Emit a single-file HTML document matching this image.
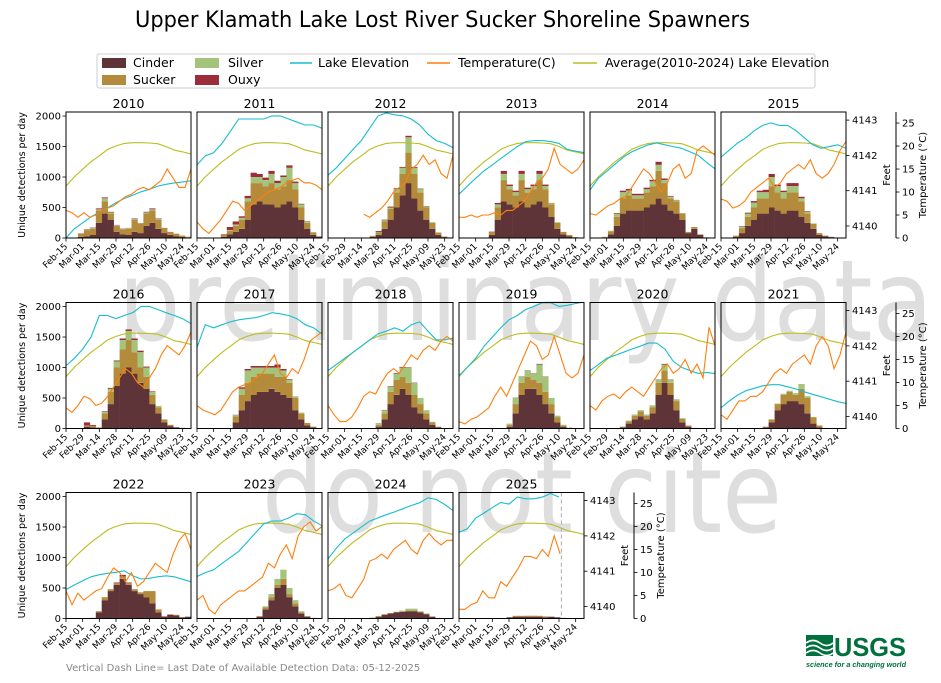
<!DOCTYPE html>
<html><head><meta charset="utf-8">
<style>
html,body{margin:0;padding:0;background:#fff;}
svg{display:block;font-family:"DejaVu Sans","Liberation Sans",sans-serif;}
</style></head>
<body>
<svg id="chart" width="941" height="683" viewBox="0 0 941 683" xmlns="http://www.w3.org/2000/svg">
<rect width="941" height="683" fill="#fff"/>
<g fill="#dedede" font-family="'DejaVu Sans','Liberation Sans',sans-serif">
<text x="118" y="340" font-size="112" textLength="815" lengthAdjust="spacingAndGlyphs">preliminary data</text>
<text x="262" y="532" font-size="112" textLength="520" lengthAdjust="spacingAndGlyphs">do not cite</text>
</g>
<text x="135" y="27" font-size="22" textLength="615" lengthAdjust="spacingAndGlyphs" fill="#000">Upper Klamath Lake Lost River Sucker Shoreline Spawners</text>
<g font-size="12.5" fill="#000">
<rect x="97" y="54" width="718" height="34" fill="#fff" stroke="#ccc" rx="2"/>
<rect x="102" y="58" width="24" height="10" fill="#5e3439"/>
<text x="133" y="67">Cinder</text>
<rect x="102" y="75" width="24" height="10" fill="#b38b3a"/>
<text x="133" y="84">Sucker</text>
<rect x="195" y="58" width="24" height="10" fill="#a3c47a"/>
<text x="228" y="67">Silver</text>
<rect x="195" y="75" width="24" height="10" fill="#9b2d3d"/>
<text x="228" y="84">Ouxy</text>
<line x1="290" y1="63" x2="312" y2="63" stroke="#17becf" stroke-width="1.5"/>
<text x="318" y="67">Lake Elevation</text>
<line x1="427" y1="63" x2="450" y2="63" stroke="#ff7f0e" stroke-width="1.5"/>
<text x="458" y="67">Temperature(C)</text>
<line x1="573" y1="63" x2="597" y2="63" stroke="#bcbd22" stroke-width="1.5"/>
<text x="605" y="67">Average(2010-2024) Lake Elevation</text>
</g>
<g id="panels"></g>
<text x="66" y="671" font-size="10" fill="#888">Vertical Dash Line= Last Date of Available Detection Data: 05-12-2025</text>
<g>
<rect x="806" y="635" width="27" height="21" fill="#00703c"/>
<path d="M806 643 q7 -5 14 0 t13 0 M806 648 q7 -5 14 0 t13 0 M806 653 q7 -5 14 0 t13 0" stroke="#fff" stroke-width="1.6" fill="none"/>
<text x="834" y="656" font-size="26" font-weight="bold" fill="#00703c" font-family="'Liberation Sans',sans-serif" textLength="72" lengthAdjust="spacingAndGlyphs">USGS</text>
<text x="806" y="667" font-size="7.5" font-style="italic" font-weight="bold" fill="#00703c" font-family="'Liberation Sans',sans-serif" textLength="100" lengthAdjust="spacingAndGlyphs">science for a changing world</text>
</g>
</svg>
<script>
const years=[2010,2011,2012,2013,2014,2015,2016,2017,2018,2019,2020,2021,2022,2023,2024,2025];
// 5-day bins from Feb-15 (21 bins)
const cinder={
2010:[0,0,20,30,50,250,400,300,100,60,50,100,80,200,250,150,80,50,30,20,10],
2011:[0,0,0,0,20,60,100,150,300,550,600,550,550,500,550,600,500,300,150,50,20],
2012:[0,0,0,0,0,0,0,20,50,150,300,500,700,900,650,450,300,150,50,15,5],
2013:[0,0,0,0,0,50,300,600,550,500,600,500,550,600,500,350,150,60,30,10,0],
2014:[0,0,10,60,200,400,450,450,450,500,550,650,550,450,400,300,80,150,50,10,0],
2015:[0,0,20,80,200,300,400,400,500,450,400,450,450,350,250,150,50,30,15,5,0],
2016:[0,0,0,30,20,10,150,400,700,900,1000,900,750,650,400,250,100,40,20,10,5],
2017:[0,0,0,0,0,0,100,300,450,550,600,600,650,600,550,500,300,150,50,20,0],
2018:[0,0,0,0,0,0,0,0,30,150,400,550,650,550,350,250,150,60,20,5,0],
2019:[0,0,0,0,0,0,0,0,30,250,550,650,650,550,400,250,100,30,10,0,0],
2020:[0,0,0,0,0,20,80,150,200,150,250,550,750,550,300,100,30,10,0,0,0],
2021:[0,0,0,0,0,0,0,20,100,300,400,450,450,400,250,80,20,5,0,0,0],
2022:[0,0,0,0,10,100,300,450,550,650,550,450,400,350,250,100,30,60,50,20,30],
2023:[0,0,0,0,0,0,0,0,0,0,30,150,300,500,550,350,200,80,30,10,0],
2024:[0,0,0,0,0,0,0,10,30,60,80,100,110,120,120,100,70,30,5,0,0],
2025:[0,0,0,0,0,0,0,0,20,30,30,30,30,30,20,30,20,10,0,0,0]};
const sucker={
2010:[0,0,50,100,100,200,200,100,100,80,100,200,150,200,200,150,80,50,40,20,10],
2011:[0,0,0,0,30,60,100,150,300,350,300,300,350,300,300,350,300,200,100,40,10],
2012:[0,0,0,0,0,0,0,10,40,120,180,250,350,500,400,300,200,100,40,10,5],
2013:[0,0,0,0,0,50,200,350,250,200,350,250,250,350,300,200,100,40,20,5,0],
2014:[0,0,10,50,150,250,250,200,200,250,300,450,350,200,200,100,20,30,10,0,0],
2015:[0,0,20,80,150,200,250,250,350,300,250,300,300,250,150,80,30,10,5,0,0],
2016:[0,0,0,20,20,10,100,200,300,400,450,350,250,200,150,100,50,20,0,0,0],
2017:[0,0,0,0,0,0,100,250,300,300,300,300,250,250,300,250,200,100,40,10,0],
2018:[0,0,0,0,0,0,0,0,30,100,200,250,200,200,200,150,100,40,10,0,0],
2019:[0,0,0,0,0,0,0,0,30,150,200,200,150,200,200,150,80,20,5,0,0],
2020:[0,0,0,0,0,10,40,60,80,60,100,200,200,200,150,60,20,0,0,0,0],
2021:[0,0,0,0,0,0,0,10,50,100,150,150,100,250,250,100,30,5,0,0,0],
2022:[0,0,0,0,0,20,50,30,30,40,30,30,30,100,200,50,10,10,10,0,0],
2023:[0,0,0,0,0,0,0,0,0,0,10,30,50,50,100,50,50,20,10,0,0],
2024:[0,0,0,0,0,0,0,5,10,10,10,10,10,10,10,10,10,5,0,0,0],
2025:[0,0,0,0,0,0,0,0,0,15,15,15,15,15,15,0,0,0,0,0,0]};
const silver={
2010:[0,0,0,10,10,20,50,20,10,10,10,10,10,20,20,10,0,0,0,0,0],
2011:[0,0,0,0,0,10,20,30,50,100,100,100,150,100,150,200,100,50,20,5,0],
2012:[0,0,0,0,0,0,0,0,10,20,20,50,100,250,100,50,20,10,0,0,0],
2013:[0,0,0,0,0,0,50,100,50,50,100,50,50,100,50,20,10,0,0,0,0],
2014:[0,0,0,10,50,100,80,50,50,50,80,100,50,30,20,10,0,0,0,0,0],
2015:[0,0,0,20,50,80,100,100,150,100,100,100,100,50,30,10,0,0,0,0,0],
2016:[0,0,0,0,0,0,20,50,100,150,150,200,250,150,50,20,0,0,0,0,0],
2017:[0,0,0,0,0,0,20,100,200,150,100,100,100,150,100,50,20,10,0,0,0],
2018:[0,0,0,0,0,0,0,0,30,50,80,100,150,250,200,100,50,10,0,0,0],
2019:[0,0,0,0,0,0,0,0,20,100,100,100,100,300,250,100,30,10,0,0,0],
2020:[0,0,0,0,0,0,10,20,20,20,30,50,100,50,30,10,0,0,0,0,0],
2021:[0,0,0,0,0,0,0,0,0,10,20,20,30,80,30,10,0,0,0,0,0],
2022:[0,0,0,0,0,0,0,0,0,0,0,0,0,0,0,0,0,0,0,0,0],
2023:[0,0,0,0,0,0,0,0,0,0,0,20,50,100,150,100,50,20,0,0,0],
2024:[0,0,0,0,0,0,0,0,0,0,0,0,10,30,30,10,0,0,0,0,0],
2025:[0,0,0,0,0,0,0,0,0,0,0,5,5,0,0,0,0,0,0,0,0]};
const ouxy={
2010:[0,0,5,5,10,15,15,10,5,5,5,10,5,10,15,10,5,0,0,0,0],
2011:[0,0,0,0,10,50,50,25,40,70,50,40,50,40,25,40,25,10,5,0,0],
2012:[0,0,0,0,0,0,0,5,15,10,15,15,15,25,15,10,5,0,0,0,0],
2013:[0,0,0,0,0,5,25,50,25,25,50,25,25,50,25,5,0,0,0,0,0],
2014:[0,0,0,0,10,25,25,25,25,25,25,50,25,10,5,0,0,0,0,0,0],
2015:[0,0,0,10,15,25,25,40,50,25,25,50,50,25,10,0,0,0,0,0,0],
2016:[0,0,0,50,15,0,10,15,15,25,25,25,25,15,10,0,0,0,0,0,0],
2017:[0,0,0,0,0,0,5,25,25,25,25,25,25,50,25,10,5,0,0,0,0],
2018:[0,0,0,0,0,0,0,0,0,5,10,10,10,5,5,0,0,0,0,0,0],
2019:[0,0,0,0,0,0,0,0,0,5,5,5,5,10,5,0,0,0,0,0,0],
2020:[0,0,0,0,0,0,0,0,0,0,0,5,10,5,0,0,0,0,0,0,0],
2021:[0,0,0,0,0,0,0,0,0,0,0,0,0,0,0,0,0,0,0,0,0],
2022:[0,0,0,0,0,0,0,0,10,25,10,0,0,0,0,0,0,0,0,0,0],
2023:[0,0,0,0,0,0,0,0,0,0,0,0,0,0,0,0,0,0,0,0,0],
2024:[0,0,0,0,0,0,0,0,0,0,0,0,0,0,0,0,0,0,0,0,0],
2025:[0,0,0,0,0,0,0,0,0,0,0,0,0,0,0,0,0,0,0,0,0]};
// weekly lake elevation (feet), days 0,7,...,105
const elevation={
2010:[4139.66,4139.92,4140.09,4140.26,4140.39,4140.52,4140.66,4140.78,4140.87,4140.97,4141.04,4141.13,4141.18,4141.22,4141.25,4141.28],
2011:[4141.73,4141.99,4142.08,4142.34,4142.68,4143.03,4143.03,4143.03,4143.03,4143.12,4143.12,4143.03,4142.94,4142.86,4142.86,4142.77],
2012:[4141.44,4141.65,4141.91,4142.17,4142.42,4142.77,4143.12,4143.20,4143.15,4143.12,4143.03,4142.86,4142.60,4142.42,4142.34,4142.22],
2013:[4140.90,4141.13,4141.35,4141.56,4141.73,4141.91,4142.08,4142.25,4142.39,4142.42,4142.42,4142.39,4142.34,4142.17,4142.12,4142.08],
2014:[4141.02,4141.35,4141.55,4141.75,4141.95,4142.10,4142.20,4142.30,4142.35,4142.30,4142.25,4142.20,4142.10,4142.00,4141.80,4141.62],
2015:[4141.95,4142.15,4142.35,4142.50,4142.70,4142.85,4142.92,4142.85,4142.85,4142.70,4142.50,4142.30,4142.20,4142.25,4142.30,4142.20],
2016:[4141.44,4141.65,4141.91,4142.25,4142.86,4142.86,4142.77,4142.86,4142.94,4143.12,4143.12,4143.03,4142.94,4142.86,4142.77,4142.63],
2017:[4141.96,4142.60,4142.51,4142.60,4142.68,4142.74,4142.77,4142.80,4142.86,4142.94,4142.91,4142.86,4142.77,4142.60,4142.51,4142.34],
2018:[4141.30,4141.47,4141.65,4141.82,4141.99,4142.17,4142.34,4142.42,4142.51,4142.42,4142.60,4142.68,4142.42,4142.17,4142.17,4142.22],
2019:[4141.16,4141.39,4141.65,4141.99,4142.25,4142.51,4142.74,4142.86,4143.03,4143.12,4143.22,4143.22,4143.12,4143.15,4143.20,4143.24],
2020:[4141.30,4141.47,4141.65,4141.73,4141.82,4141.91,4141.99,4142.08,4142.08,4141.91,4141.56,4141.39,4141.30,4141.22,4141.25,4141.22],
2021:[4140.25,4140.44,4140.61,4140.73,4140.80,4140.87,4140.90,4140.90,4140.84,4140.78,4140.70,4140.63,4140.56,4140.49,4140.42,4140.37],
2022:[4140.48,4140.61,4140.73,4140.84,4140.90,4140.94,4140.97,4141.01,4140.87,4140.78,4140.80,4140.84,4140.87,4140.84,4140.77,4140.70],
2023:[4140.85,4140.96,4141.04,4141.22,4141.39,4141.56,4141.82,4142.08,4142.34,4142.42,4142.42,4142.51,4142.63,4142.60,4142.42,4142.29],
2024:[4141.35,4141.65,4141.91,4142.08,4142.25,4142.42,4142.51,4142.60,4142.68,4142.77,4142.86,4142.94,4143.08,4143.03,4142.89,4142.72],
2025:[4142.10,4142.20,4142.50,4142.65,4142.80,4142.95,4142.90,4143.10,4143.05,4143.05,4143.10,4143.20,4143.10,null,null,null]};
const averageElevation=[4141.13,4141.39,4141.61,4141.82,4141.99,4142.17,4142.27,4142.34,4142.36,4142.36,4142.35,4142.33,4142.25,4142.15,4142.10,4142.04];
// temperature (C) every 5 days, days 0..105
const temperature={
2010:[6,5.5,4.5,5.5,4.5,5,6,6.5,7,8,9,9.5,10.5,11,10.5,11.5,12.5,15,13,11,11,15],
2011:[3.5,2,1,2.5,4,6,8,7.5,6,7,8,9,10,10.5,11,12,12.5,13,12,12,11.5,10.5],
2012:[null,null,null,null,null,null,5.2,4.5,5.5,6.5,8,10,11,12,15,16,18,16,17,14,13,18],
2013:[4.5,4.5,5,4.5,5,5,5.5,5,6,6,7,8,10,12,13,15,19.5,16,15,14,15,17],
2014:[5.3,5,6,7,7.5,8.5,9,11,13,15,14,12,10,12,15,16,13,14,19,20,19,18],
2015:[8.5,8,6.5,7,8,10,11,12,13,11,12,14,15,16,15,17,14,13,14,16,19,21],
2016:[4.5,3.5,5,7,6.5,5,5.5,7,9,11,13,12,10,9,11,13,16,18,17,16,18,21],
2017:[5,4,3.5,3,4,6,8,9,9.5,10,11,12,14,16,12,11,13,12,15,19,20,21],
2018:[5,3,1.5,1.5,2.5,4.5,7,8,7.5,10,12,13,12,14,16,15,17,18,17,19,20,19],
2019:[1.5,1,2,2.5,3.5,4.5,7,9,7,10,13,16,19,18,15,16,20,16,12,11,12,16],
2020:[5,4,6,7,7.5,6.5,8,9,8,7,9,11,13,14,12,13,15,12,14,11,22,18],
2021:[3,2,4,6,6,7,7,8,10,12,13,12,14,15,16,14,18,20,18,13,16,21],
2022:[6,3,5.5,4,5,6,6.5,9,11,10,8,10,7,8,10,12,11,10,14,17,18.5,15],
2023:[4,5,2,1,3,4,5,6,6,7,8,9,12,11,14,16,13,18,20,21,19,20],
2024:[6,6.5,7.5,5,4.5,6.5,8.5,12.5,13,14,13,15,16,17,15,14,17,18.5,17,16,17,17],
2025:[2,2,3,3.5,6,4.5,4.5,8,7,9,11,13.5,13.5,13,15,13.5,18,14,null,null,null,null]};
const tickDaysNormal=["Feb-15","Mar-01","Mar-15","Mar-29","Apr-12","Apr-26","May-10","May-24"];
const tickDaysLeap=["Feb-15","Feb-29","Mar-14","Mar-28","Apr-11","Apr-25","May-09","May-23"];
const countTicks=[0,500,1000,1500,2000];
const feetTicks=[4140,4141,4142,4143];
const tempTicks=[0,5,10,15,20,25];
const lastDataDay=86;

const NS="http://www.w3.org/2000/svg";
const root=document.getElementById('panels');
const colX=[66,197,328,459,590,721], PW=125, PH=126;
const rowTop=[112,302.5,492.5];
const DAYS=105, CMAX=2066, FMIN=4139.66, FPX=35.3, TMAX=27.4;
function mk(tag,attrs,parent){const e=document.createElementNS(NS,tag);for(const k in attrs)e.setAttribute(k,attrs[k]);(parent||root).appendChild(e);return e;}
function linePath(vals,step,xs,ys){let d="",pen=false;vals.forEach((v,i)=>{if(v===null||v===undefined){pen=false;return;}d+=(pen?"L":"M")+xs(i*step).toFixed(1)+" "+ys(v).toFixed(1);pen=true;});return d;}

years.forEach((yr,idx)=>{
  const row=Math.floor(idx/6), col=idx%6;
  const x0=colX[col], top=rowTop[row], bot=top+PH;
  const xs=d=>x0+d*PW/DAYS;
  const yc=c=>bot-c*PH/CMAX;
  const yf=f=>bot-(f-FMIN)*FPX;
  const yt=t=>bot-t*PH/TMAX;
  const g=mk('g',{});
  
  
  const clipId='clip'+yr;
  const cp=mk('clipPath',{id:clipId},g);mk('rect',{x:x0,y:top,width:PW,height:PH},cp);
  const inner=mk('g',{'clip-path':'url(#'+clipId+')'},g);
  const series=[[cinder,'#5e3439','cinder'],[sucker,'#b38b3a','sucker'],[silver,'#a3c47a','silver'],[ouxy,'#9b2d3d','ouxy']];
  const cum=new Array(21).fill(0);
  series.forEach(([data,color,nm])=>{
    data[yr].forEach((v,i)=>{
      if(v<=0)return;
      const b=mk('rect',{x:xs(i*5).toFixed(1),y:yc(cum[i]+v).toFixed(1),width:(5*PW/DAYS+0.3).toFixed(2),height:(yc(cum[i])-yc(cum[i]+v)).toFixed(1),fill:color},inner);
      
      
      cum[i]+=v;
    });
  });
  const avg=mk('path',{d:linePath(averageElevation,7,xs,yf),stroke:'#bcbd22','stroke-width':1.1,fill:'none'},inner);
  
  
  const el=mk('path',{d:linePath(elevation[yr],7,xs,yf),stroke:'#17becf','stroke-width':1.1,fill:'none'},inner);
  
  
  const tp=mk('path',{d:linePath(temperature[yr],5,xs,yt),stroke:'#ff7f0e','stroke-width':1.1,fill:'none'},inner);
  
  
  if(yr===2025){
    const dl=mk('line',{x1:xs(lastDataDay),x2:xs(lastDataDay),y1:top,y2:bot,stroke:'#aaa','stroke-dasharray':'4 3','stroke-width':1},inner);
    
    
  }
  const fr=mk('rect',{x:x0,y:top,width:PW,height:PH,fill:'none',stroke:'#000','stroke-width':1},g);
  
  
  const tt=mk('text',{x:x0+PW/2,y:top-4,'text-anchor':'middle','font-size':12.5,fill:'#000'},g);
  tt.textContent=yr;
  
  
  const leap=(yr%4===0);
  const labs=leap?tickDaysLeap:tickDaysNormal;
  labs.forEach((lb,i)=>{
    const x=xs(i*14);
    mk('line',{x1:x,x2:x,y1:bot,y2:bot+3.5,stroke:'#000','stroke-width':0.8},g);
    const t=mk('text',{x:x+2,y:bot+9,'text-anchor':'end','font-size':9,fill:'#000',transform:'rotate(-45 '+(x+2)+' '+(bot+9)+')'},g);
    t.textContent=lb;
    
    
  });
  if(col===0){
    countTicks.forEach(c=>{
      const y=yc(c);
      mk('line',{x1:x0-3.5,x2:x0,y1:y,y2:y,stroke:'#000','stroke-width':0.8},g);
      const t=mk('text',{x:x0-5,y:y+3.5,'text-anchor':'end','font-size':10,fill:'#000'},g);
      t.textContent=c;
      
      
    });
    const yl=mk('text',{x:0,y:0,'text-anchor':'middle','font-size':9.5,fill:'#000',transform:'translate(25 '+(top+PH/2)+') rotate(-90)'},g);
    yl.textContent='Unique detections per day';
    
    
  }
  const lastInRow=(idx===5||idx===11||idx===15);
  if(lastInRow){
    const xr=x0+PW;
    feetTicks.forEach(f=>{
      const y=yf(f);
      mk('line',{x1:xr,x2:xr+3.5,y1:y,y2:y,stroke:'#000','stroke-width':0.8},g);
      const t=mk('text',{x:xr+6,y:y+3.5,'font-size':10,fill:'#000'},g);
      t.textContent=f;
      
      
    });
    const fl=mk('text',{x:0,y:0,'text-anchor':'middle','font-size':10,fill:'#000',transform:'translate('+(xr+44)+' '+(top+PH/2)+') rotate(-90)'},g);
    fl.textContent='Feet';
    
    
    const xt=xr+50;
    mk('line',{x1:xt,x2:xt,y1:top,y2:bot,stroke:'#000','stroke-width':1},g);
    tempTicks.forEach(tv=>{
      const y=yt(tv);
      mk('line',{x1:xt,x2:xt+3.5,y1:y,y2:y,stroke:'#000','stroke-width':0.8},g);
      const t=mk('text',{x:xt+6,y:y+3.5,'font-size':10,fill:'#000'},g);
      t.textContent=tv;
      
      
    });
    const tl=mk('text',{x:0,y:0,'text-anchor':'middle','font-size':10,fill:'#000',transform:'translate('+(xt+30)+' '+(top+PH/2)+') rotate(-90)'},g);
    tl.textContent='Temperature (°C)';
    
    
  }
});
</script>
</body></html>
